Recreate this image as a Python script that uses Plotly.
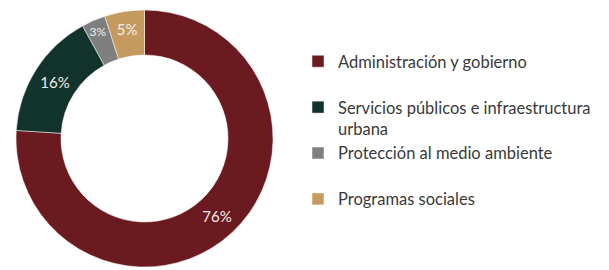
import plotly.graph_objects as go

categories = [
    "Administración y gobierno<br> ",
    "Servicios públicos e infraestructura<br>urbana",
    "Protección al medio ambiente<br> ",
    "Programas sociales",
]
values = [76, 16, 3, 5]
colors = ["#6B1A1F", "#12332C", "#7F7F7F", "#C49A5E"]

fig = go.Figure(
    go.Pie(
        labels=categories,
        values=values,
        sort=False,
        direction="clockwise",
        rotation=0,
        hole=0.65,
        marker=dict(colors=colors, line=dict(color="white", width=0.5)),
        texttemplate="%{value}%",
        textposition="inside",
        insidetextorientation="horizontal",
        textfont=dict(family="Lato", size=15, color="#F2EDED"),
        domain=dict(x=[8 / 609, 265 / 609], y=[11 / 270, 268 / 270]),
        hoverinfo="label+percent",
    )
)

fig.update_layout(
    width=609,
    height=270,
    margin=dict(l=0, r=0, t=0, b=0),
    paper_bgcolor="white",
    plot_bgcolor="white",
    font=dict(family="Lato", size=16.5, color="#3A3A3A"),
    showlegend=True,
    legend=dict(
        x=290 / 609,
        xanchor="left",
        y=1 - 36 / 270,
        yanchor="top",
        valign="top",
        font=dict(family="Lato", size=16.5, color="#3A3A3A"),
        tracegroupgap=0,
        bgcolor="rgba(0,0,0,0)",
    ),
)

fig.write_html("out.html")
